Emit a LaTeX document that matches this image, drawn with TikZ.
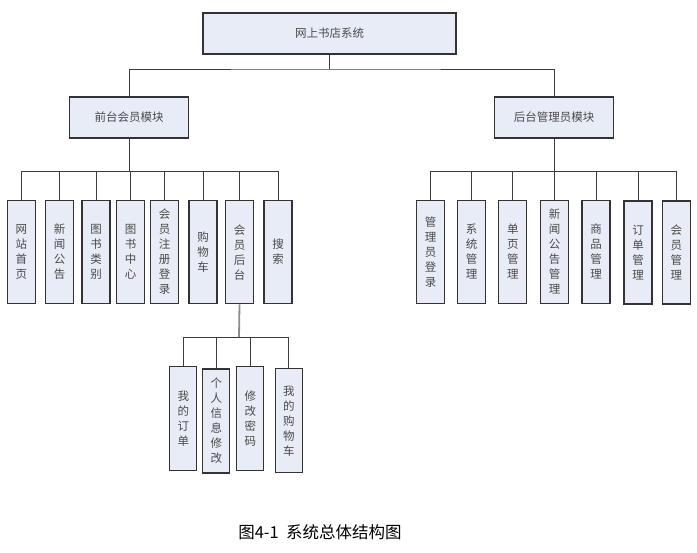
\documentclass[tikz,border=0pt]{standalone}
\usepackage{fontspec}
\setmainfont{Noto Sans CJK SC}
\newfontfamily\cjkfont{Noto Sans CJK SC}
\definecolor{boxfill}{HTML}{E7ECF6}
\definecolor{boxline}{HTML}{333333}
\definecolor{txt}{HTML}{4A4A4A}
\definecolor{conn}{HTML}{3C3C3C}
\tikzset{
  basebox/.style={draw=boxline, fill=boxfill, line width=1.2pt, inner sep=0pt, text=txt,
    font=\cjkfont\fontsize{11.5}{15}\selectfont},
  widebox/.style={basebox, minimum width=119.5pt, minimum height=41pt},
  topbox/.style={basebox, minimum width=253pt, minimum height=41pt},
  leafbox/.style={basebox, minimum width=28pt, minimum height=103pt, align=center, text width=12pt},
  subbox/.style={basebox, minimum width=27pt, minimum height=104pt, align=center, text width=12pt},
  conn/.style={draw=conn, line width=0.9pt},
  greystem/.style={draw=gray!90, line width=1.8pt}
}
\begin{document}
\begin{tikzpicture}[x=1pt,y=-1pt]
\useasboundingbox (0,0) rectangle (697,553);
% top
\node[topbox] (top) at (329.5,33.5) {网上书店系统};
\node[widebox] (front) at (129,117.5) {前台会员模块};
\node[widebox] (back) at (554,117.5) {后台管理员模块};
\coordinate (b1) at (329.5,69);
\draw[conn] (top.south) -- (b1);
\draw[conn] (front.north) |- (b1) -| (back.north);
% front leaves
\node[leafbox] (f1) at (21.5,252) {网\\站\\首\\页};
\node[leafbox] (f2) at (59.5,252) {新\\闻\\公\\告};
\node[leafbox] (f3) at (96,252) {图\\书\\类\\别};
\node[leafbox] (f4) at (130.5,252) {图\\书\\中\\心};
\node[leafbox] (f5) at (164.5,252) {会\\员\\注\\册\\登\\录};
\node[leafbox] (f6) at (203,252) {购\\物\\车};
\node[leafbox] (f7) at (239.5,252.3) {会\\员\\后\\台};
\node[leafbox] (f8) at (278,252) {搜\\索};
\coordinate (b2) at (129,171);
\draw[conn] (front.south) -- (b2);
\foreach \n in {f1,f2,f3,f4,f5,f6,f7,f8} \draw[conn] (\n.north) |- (b2);
% back leaves
\node[leafbox] (r1) at (430.5,251.7) {管\\理\\员\\登\\录};
\node[leafbox] (r2) at (471.7,251.7) {系\\统\\管\\理};
\node[leafbox] (r3) at (512.8,251.7) {单\\页\\管\\理};
\node[leafbox] (r4) at (554.5,251.7) {新\\闻\\公\\告\\管\\理};
\node[leafbox] (r5) at (596,251.7) {商\\品\\管\\理};
\node[leafbox] (r6) at (638,252.5) {订\\单\\管\\理};
\node[leafbox] (r7) at (676.3,252.5) {会\\员\\管\\理};
\coordinate (b3) at (554,171);
\draw[conn] (back.south) -- (b3);
\foreach \n in {r1,r2,r3,r4,r5,r6,r7} \draw[conn] (\n.north) |- (b3);
% sub leaves
\node[subbox] (s1) at (183.3,418.3) {我\\的\\订\\单};
\node[subbox] (s2) at (216.3,421) {个\\人\\信\\息\\修\\改};
\node[subbox] (s3) at (250.3,418.3) {修\\改\\密\\码};
\node[subbox] (s4) at (288.8,420.8) {我\\的\\购\\物\\车};
\coordinate (b4) at (239,337);
\draw[greystem] (f7.south) -- (b4);
\foreach \n in {s1,s2,s3,s4} \draw[conn] (\n.north) |- (b4);
% caption
\node[font=\cjkfont\fontsize{16.5}{19}\selectfont, text=black] (cap) at (320,532) {图4-1\ \ 系统总体结构图};
\end{tikzpicture}
\end{document}
